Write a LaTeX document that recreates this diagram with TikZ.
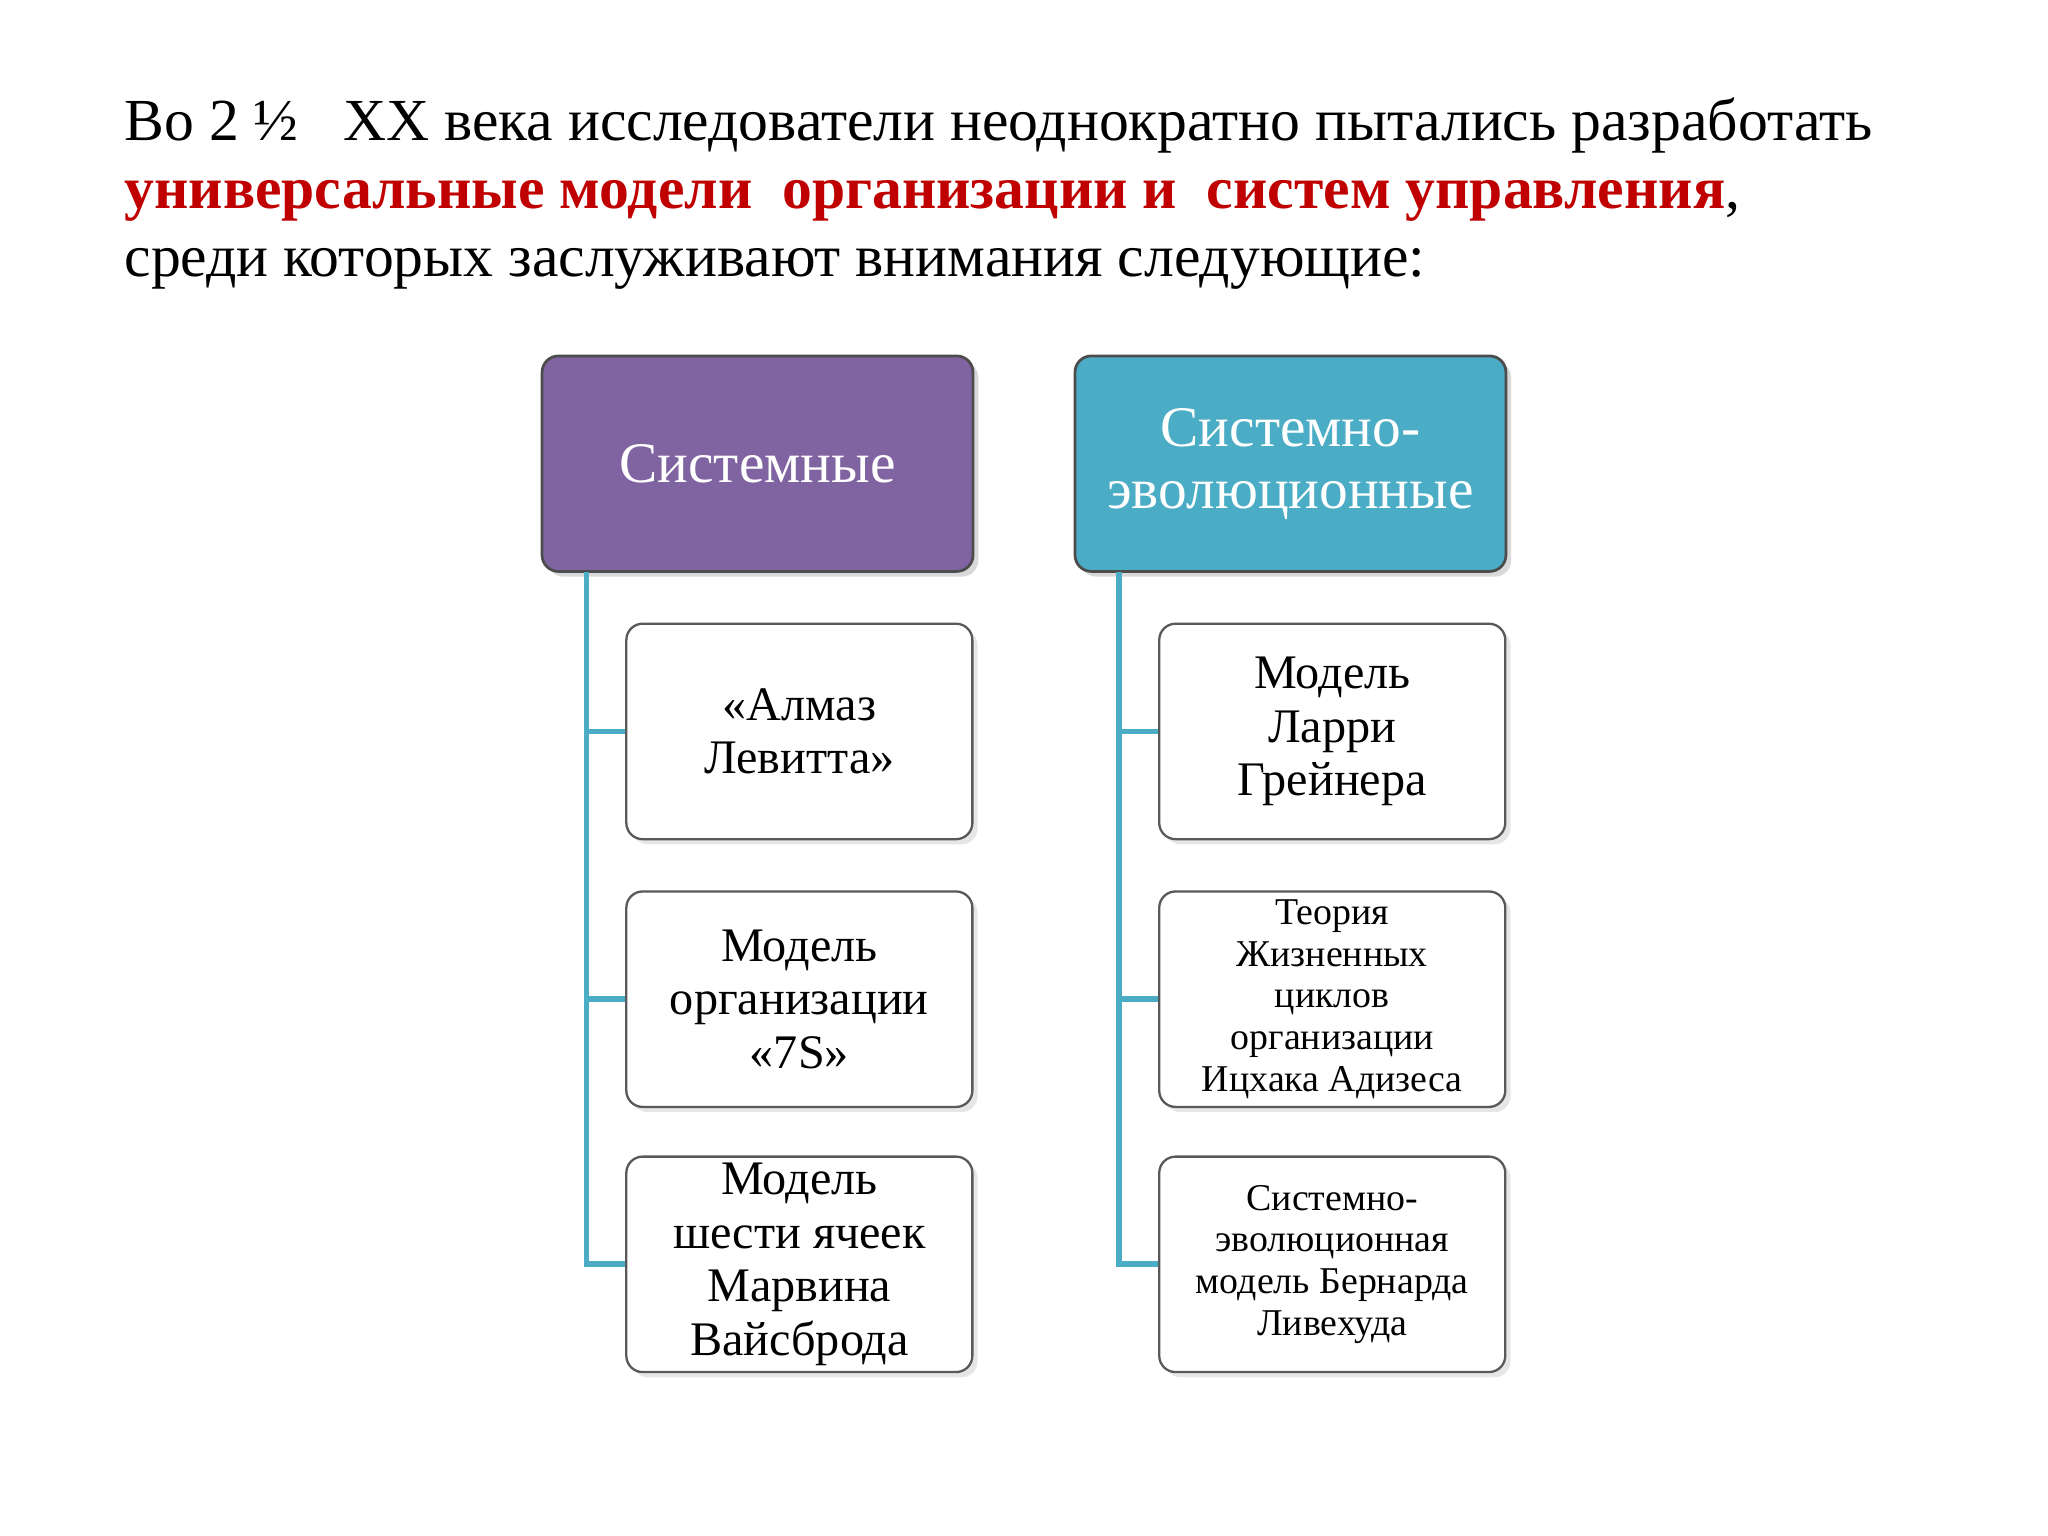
\documentclass[tikz,border=0pt]{standalone}
\usepackage{fontspec}
\setmainfont{Liberation Serif}
\usetikzlibrary{shadows}
\definecolor{purp}{HTML}{8064A2}
\definecolor{teal1}{HTML}{4BACC6}
\definecolor{dred}{HTML}{C00000}
\begin{document}
\begin{tikzpicture}[x=0.02cm,y=-0.02cm,
  head/.style={draw=black!70,line width=1.2pt,rounded corners=0.25cm,minimum width=6.6cm,minimum height=3.3cm,text=white,align=center,font=\fontsize{25}{27}\selectfont,drop shadow={opacity=0.3}},
  child/.style={draw=black!65,line width=1pt,fill=white,rounded corners=0.25cm,minimum width=5.3cm,minimum height=3.3cm,align=center,inner sep=0pt,drop shadow={opacity=0.2}},
  big/.style={font=\fontsize{21}{23.3}\selectfont},
  small/.style={font=\fontsize{16.5}{18.2}\selectfont},
  conn/.style={draw=teal1,line width=2.5pt}]
\useasboundingbox (0,0) rectangle (1568,1176);
\node[anchor=west,align=left,font=\fontsize{26}{29.6}\selectfont,inner sep=0] (title) at (95,148)
 {Во 2 ½ \ \ XX века исследователи неоднократно пытались разработать\\
 \textcolor{dred}{\textbf{универсальные модели \ организации и \ систем управления}},\\
 среди которых заслуживают внимания следующие:};
\node[head,fill=purp] (h1) at (580,355) {Системные};
\node[head,fill=teal1] (h2) at (988,355) {Системно-\\эволюционные};
\node[child,big] (a1) at (612,560) {«Алмаз\\Левитта»};
\node[child,big] (a2) at (612,765) {Модель\\организации\\«7S»};
\node[child,big] (a3) at (612,968) {Модель\\шести ячеек\\Марвина\\Вайсброда};
\node[child,big] (b1) at (1020,560) {Модель\\Ларри\\Грейнера};
\node[child,small] (b2) at (1020,765) {Теория\\Жизненных\\циклов\\организации\\Ицхака Адизеса};
\node[child,small] (b3) at (1020,968) {Системно-\\эволюционная\\модель Бернарда\\Ливехуда};
\coordinate (l0) at (449,438); \coordinate (r0) at (857,438);
\draw[conn] (l0) |- (a3.west);
\draw[conn] (l0 |- a1.west) -- (a1.west);
\draw[conn] (l0 |- a2.west) -- (a2.west);
\draw[conn] (r0) |- (b3.west);
\draw[conn] (r0 |- b1.west) -- (b1.west);
\draw[conn] (r0 |- b2.west) -- (b2.west);
\end{tikzpicture}
\end{document}
